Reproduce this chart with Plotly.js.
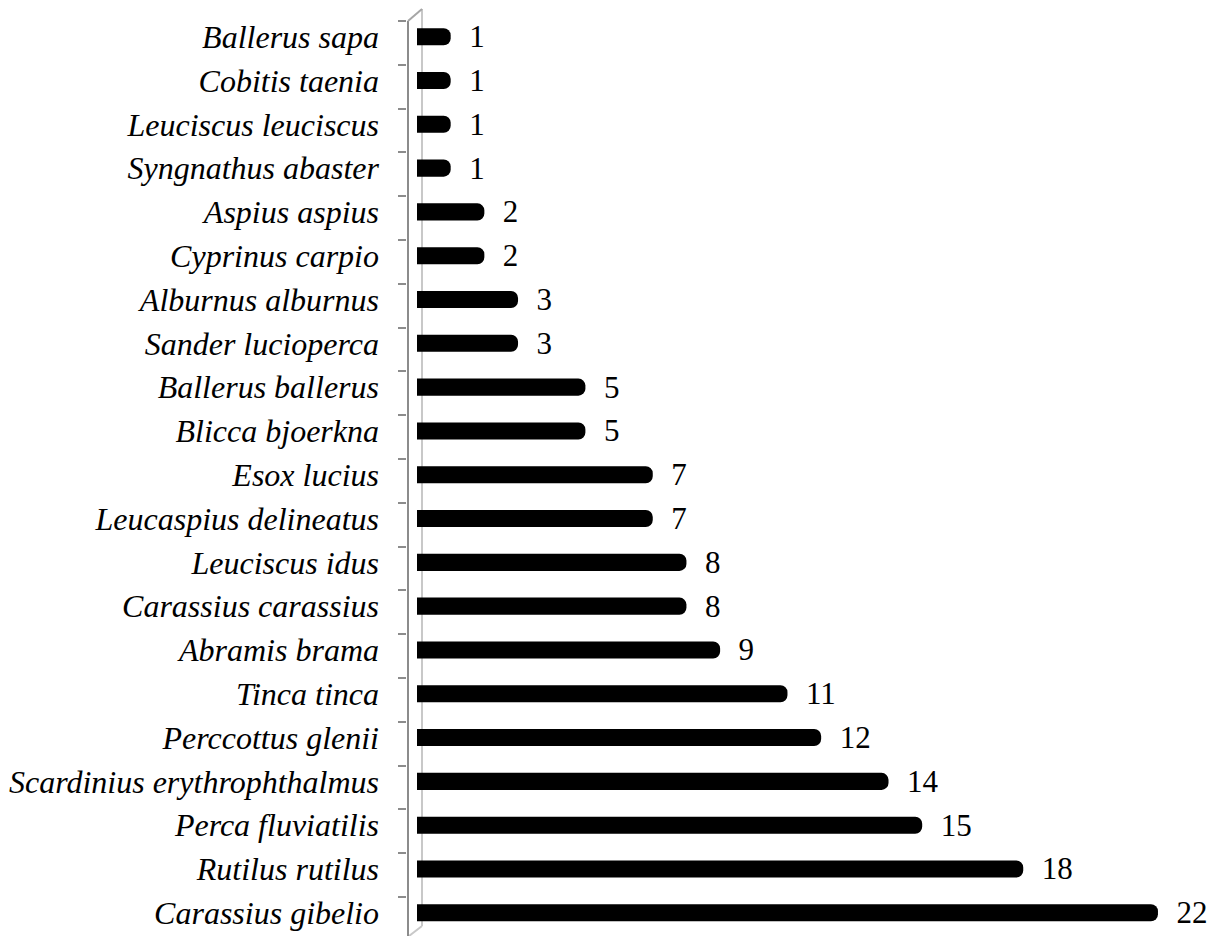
<!DOCTYPE html>
<html><head><meta charset="utf-8">
<script src="https://cdn.plot.ly/plotly-3.0.1.min.js"></script>
<style>html,body{margin:0;padding:0;background:#fff;}</style>
</head><body>
<div id="chart" style="width:1221px;height:936px;"></div>
<script>
const species = ["Ballerus sapa","Cobitis taenia","Leuciscus leuciscus","Syngnathus abaster","Aspius aspius","Cyprinus carpio","Alburnus alburnus","Sander lucioperca","Ballerus ballerus","Blicca bjoerkna","Esox lucius","Leucaspius delineatus","Leuciscus idus","Carassius carassius","Abramis brama","Tinca tinca","Perccottus glenii","Scardinius erythrophthalmus","Perca fluviatilis","Rutilus rutilus","Carassius gibelio"];
const counts = [1,1,1,1,2,2,3,3,5,5,7,7,8,8,9,11,12,14,15,18,22];

const serif = 'Liberation Serif';

const bars = {
  type: 'bar', orientation: 'h',
  x: counts, y: species,
  xaxis: 'x', yaxis: 'y',
  width: 0.39,
  marker: {color: '#000000', cornerradius: 7, line: {width: 0}},
  text: counts.map(String),
  texttemplate: '  %{text}',
  textposition: 'outside',
  constraintext: 'none',
  cliponaxis: false,
  textfont: {family: serif, size: 31, color: '#000'},
  hoverinfo: 'none'
};

// invisible trace that carries the front-plane category axis (ticks)
const frontAxis = {
  type: 'scatter', mode: 'none',
  x: species.map(() => 0), y: species,
  xaxis: 'x', yaxis: 'y2',
  hoverinfo: 'skip', showlegend: false
};

const W = 1221, H = 936, L = 407, R = 11, T = 14, B = 0;
const pw = W - L - R, ph = H - T - B;
const px = v => (v - L) / pw;
const py = v => (H - B - v) / ph;

const layout = {
  width: W, height: H,
  margin: {l: L, r: R, t: T, b: B, pad: 0},
  paper_bgcolor: '#fff', plot_bgcolor: '#fff',
  showlegend: false,
  xaxis: {range: [-0.297, 23.545], visible: false, fixedrange: true},
  yaxis: {
    type: 'category', categoryorder: 'array', categoryarray: species,
    range: [20.53, -0.518],
    showline: false, ticks: '', ticklabelstandoff: 27,
    showgrid: false, zeroline: false,
    tickfont: {family: serif, size: 32, color: '#000', style: 'italic'}
  },
  yaxis2: {
    type: 'category', categoryorder: 'array', categoryarray: species,
    overlaying: 'y', side: 'left', anchor: 'x',
    range: [20.39, -0.66],
    showline: false, showticklabels: false,
    ticks: 'outside', tickson: 'boundaries', ticklen: 8, tickcolor: '#8c8c8c', tickwidth: 2,
    showgrid: false, zeroline: false
  },
  shapes: [
    {type: 'line', xref: 'paper', yref: 'paper', x0: px(408), y0: py(21), x1: px(408), y1: py(936), line: {color: '#8c8c8c', width: 2}},
    {type: 'line', xref: 'paper', yref: 'paper', x0: px(408), y0: py(21), x1: px(422), y1: py(9), line: {color: '#a6a6a6', width: 2}},
    {type: 'line', xref: 'paper', yref: 'paper', layer: 'below', x0: px(422), y0: py(9), x1: px(422), y1: py(926), line: {color: '#c8c8c8', width: 2}},
    {type: 'line', xref: 'paper', yref: 'paper', layer: 'below', x0: px(422), y0: py(926), x1: px(409), y1: py(936), line: {color: '#c8c8c8', width: 2}}
  ]
};

Plotly.newPlot('chart', [frontAxis, bars], layout, {displayModeBar: false, staticPlot: true});
</script>
</body></html>
